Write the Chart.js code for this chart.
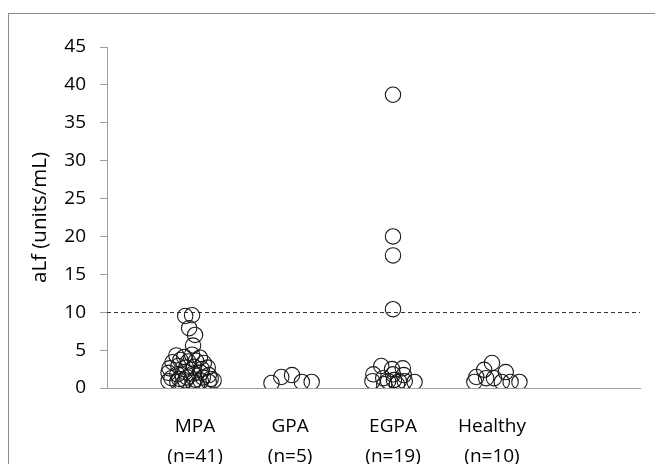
<!DOCTYPE html>
<html><head><meta charset="utf-8">
<script src="https://cdn.jsdelivr.net/npm/chart.js@4"></script>
<style>
html,body{margin:0;padding:0;background:#fff;}
#wrap{position:relative;width:655px;height:464px;overflow:hidden;}
#frame{position:absolute;left:8px;top:13px;width:700px;height:500px;border:1px solid #8c8c8c;box-sizing:border-box;}
canvas{position:absolute;left:0;top:0;}
</style></head><body>
<div id="wrap"><div id="frame"></div><canvas id="c" width="655" height="464"></canvas></div>
<script>
// Groups and axis labels
const categories = ['MPA', 'GPA', 'EGPA', 'Healthy'];
const nLabels = ['(n=41)', '(n=5)', '(n=19)', '(n=10)'];
const catPos = [1, 1.97, 3.02, 4.03];
const yTicks = [0, 5, 10, 15, 20, 25, 30, 35, 40, 45];
const cutoffValue = 10;

// aLf values (units/mL) per group and their horizontal spread (beeswarm offsets)
const mpaValues = [9.5, 9.6, 7.9, 7.0, 5.6,
  4.3, 4.1, 4.4, 4.0,
  3.4, 3.7, 3.5, 3.6, 3.3,
  2.6, 2.9, 2.7, 2.8, 2.5, 2.7,
  2.0, 1.8, 2.1, 1.9, 2.0, 1.7,
  1.3, 1.2, 1.4, 1.1, 1.4, 1.2,
  0.9, 0.8, 1.0, 0.7, 0.9, 0.8, 1.0,
  0.5, 0.4];
const mpaSpread = [-0.10, -0.03, -0.06, 0, -0.02,
  -0.19, -0.11, -0.03, 0.05,
  -0.23, -0.15, -0.07, 0.01, 0.09,
  -0.26, -0.17, -0.09, -0.01, 0.07, 0.13,
  -0.27, -0.18, -0.10, -0.02, 0.06, 0.14,
  -0.24, -0.16, -0.08, 0, 0.08, 0.16,
  -0.27, -0.18, -0.10, -0.02, 0.06, 0.14, 0.19,
  -0.13, 0.02];
const gpaValues = [0.66, 1.45, 1.7, 0.8, 0.8];
const gpaSpread = [-0.19, -0.09, 0.02, 0.12, 0.22];
const egpaValues = [38.7, 20.0, 17.5, 10.4,
  2.9, 2.5, 2.6, 1.8, 1.8, 1.7, 0.9, 1.3, 0.9, 1.05, 0.9, 0.9, 0.8, 0.5, 0.5];
const egpaSpread = [0, 0, 0, 0,
  -0.12, -0.01, 0.10, -0.20, 0, 0.11, -0.21, -0.10, -0.05, 0.01, 0.06, 0.12, 0.22, -0.09, 0.04];
const healthyValues = [3.3, 2.4, 2.1, 1.45, 1.3, 1.3, 0.8, 0.8, 0.8, 0.8];
const healthySpread = [0, -0.08, 0.14, -0.16, -0.06, 0.02, -0.18, 0.10, 0.19, 0.28];

const groups = [
  [mpaValues, mpaSpread],
  [gpaValues, gpaSpread],
  [egpaValues, egpaSpread],
  [healthyValues, healthySpread]
];

const FONT = '"Open Sans", Lato, sans-serif';

const datasets = groups.map(([vals, spread], gi) => ({
  label: categories[gi],
  data: vals.map((v, i) => ({ x: catPos[gi] + spread[i], y: v })),
  pointStyle: 'circle',
  pointRadius: 7.7,
  pointBorderWidth: 1.1,
  pointBorderColor: '#1a1a1a',
  pointBackgroundColor: 'rgba(0,0,0,0)',
  showLine: false
}));

const cutoffPlugin = {
  id: 'cutoff',
  beforeDatasetsDraw(chart) {
    const { ctx, chartArea, scales } = chart;
    const y = Math.round(scales.y.getPixelForValue(cutoffValue)) + 0.5;
    ctx.save();
    ctx.strokeStyle = '#333';
    ctx.lineWidth = 1;
    ctx.setLineDash([4, 3]);
    ctx.beginPath();
    ctx.moveTo(chartArea.left, y);
    ctx.lineTo(chartArea.right, y);
    ctx.stroke();
    ctx.restore();
  }
};

new Chart(document.getElementById('c'), {
  type: 'scatter',
  data: { datasets },
  options: {
    responsive: false,
    animation: false,
    devicePixelRatio: 1,
    layout: { padding: { top: 47, right: 15, left: 0, bottom: 0 } },
    plugins: { legend: { display: false }, tooltip: { enabled: false } },
    scales: {
      x: {
        type: 'linear',
        min: 0.102,
        max: 5.54,
        grid: { display: false, drawTicks: false },
        border: { display: true, color: '#a0a0a0' },
        afterBuildTicks: s => { s.ticks = catPos.map(v => ({ value: v })); },
        afterFit: s => { s.height = 76; },
        ticks: {
          padding: 24, autoSkip: false, maxRotation: 0, minRotation: 0,
          color: '#000',
          font: { family: FONT, size: 19, lineHeight: '30px' },
          callback: (v, i) => [categories[i], nLabels[i]]
        }
      },
      y: {
        min: 0,
        max: 45,
        afterBuildTicks: s => { s.ticks = yTicks.map(v => ({ value: v })); },
        afterFit: s => { s.width = 107; },
        ticks: { padding: 14, color: '#000', font: { family: FONT, size: 19 } },
        grid: { drawOnChartArea: false, drawTicks: true, tickLength: 7, color: '#a0a0a0' },
        border: { display: true, color: '#a0a0a0' },
        title: {
          display: true, text: 'aLf (units/mL)', color: '#000',
          font: { family: FONT, size: 20.5, lineHeight: 1.2 }, padding: { top: 28, bottom: 0 }
        }
      }
    }
  },
  plugins: [cutoffPlugin]
});
</script>
</body></html>
